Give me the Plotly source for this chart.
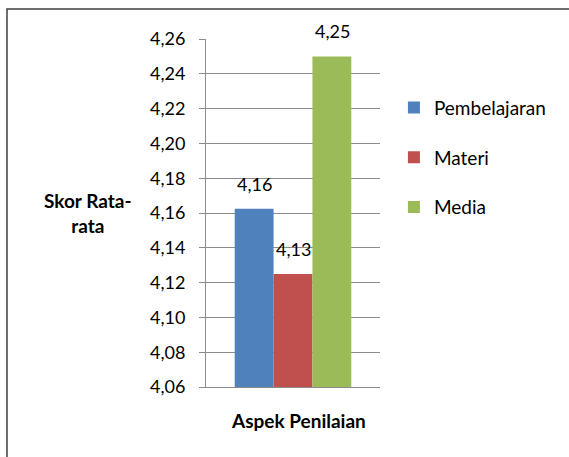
import plotly.graph_objects as go
from decimal import Decimal, ROUND_HALF_UP

categories = ["Pembelajaran", "Materi", "Media"]
values = [4.1625, 4.125, 4.25]
colors = ["#4F81BD", "#C0504D", "#9BBB59"]
y_ticks = [4.06, 4.08, 4.10, 4.12, 4.14, 4.16, 4.18, 4.20, 4.22, 4.24, 4.26]

def fmt(v):
    return str(Decimal(str(v)).quantize(Decimal("0.01"), rounding=ROUND_HALF_UP)).replace(".", ",")

FONT = "Lato"
fig = go.Figure()
for i, (name, v, c) in enumerate(zip(categories, values, colors)):
    fig.add_trace(go.Bar(x=["Aspek"], y=[v], name=name, marker_color=c,
                         marker_line_width=0, legendgroup=name))

offsets = [-39, 0, 39]
annotations = []
for v, dx in zip(values, offsets):
    annotations.append(dict(x="Aspek", y=v, xref="x", yref="y", text=fmt(v),
                            showarrow=False, xshift=dx, yshift=25,
                            font=dict(family=FONT, size=18, color="#000")))
annotations.append(dict(x=-0.678, y=0.5, xref="paper", yref="paper", text="<b>Skor Rata-<br>rata</b>",
                        xanchor="center", yanchor="middle",
                        showarrow=False, font=dict(family=FONT, size=19, color="#000"), align="center"))
annotations.append(dict(x=0.529, y=-0.095, xref="paper", yref="paper", text="<b>Aspek Penilaian</b>",
                        xanchor="center", yanchor="middle",
                        showarrow=False, font=dict(family=FONT, size=19, color="#000")))

fig.update_layout(
    width=569, height=457,
    margin=dict(l=206, r=189, t=39, b=70),
    paper_bgcolor="white", plot_bgcolor="white",
    separators=",.",
    barmode="group", bargap=0.33, bargroupgap=0,
    showlegend=True,
    legend=dict(x=1.08, y=0.857, xanchor="left", yanchor="top",
                font=dict(family=FONT, size=19, color="#000"),
                tracegroupgap=22, bgcolor="rgba(0,0,0,0)"),
    annotations=annotations,
    font=dict(family=FONT, size=18, color="#000"),
    shapes=[dict(type="rect", xref="paper", yref="paper",
                 x0=-1.1437, x1=2.2, y0=-0.25, y1=1.0862,
                 line=dict(color="#404040", width=1.5), layer="below")],
)
fig.update_yaxes(range=[4.06, 4.26], tickvals=y_ticks, tickformat=".2f",
                 showgrid=True, gridcolor="#8C8C8C", gridwidth=1,
                 showline=True, linecolor="#8C8C8C", linewidth=1,
                 ticks="outside", ticklen=6, tickcolor="#8C8C8C",
                 ticklabelstandoff=10,
                 tickfont=dict(family=FONT, size=18, color="#000"), zeroline=False)
fig.update_xaxes(showticklabels=False, showline=True, linecolor="#8C8C8C", linewidth=1,
                 ticks="", showgrid=False)

fig.write_html("out.html")
